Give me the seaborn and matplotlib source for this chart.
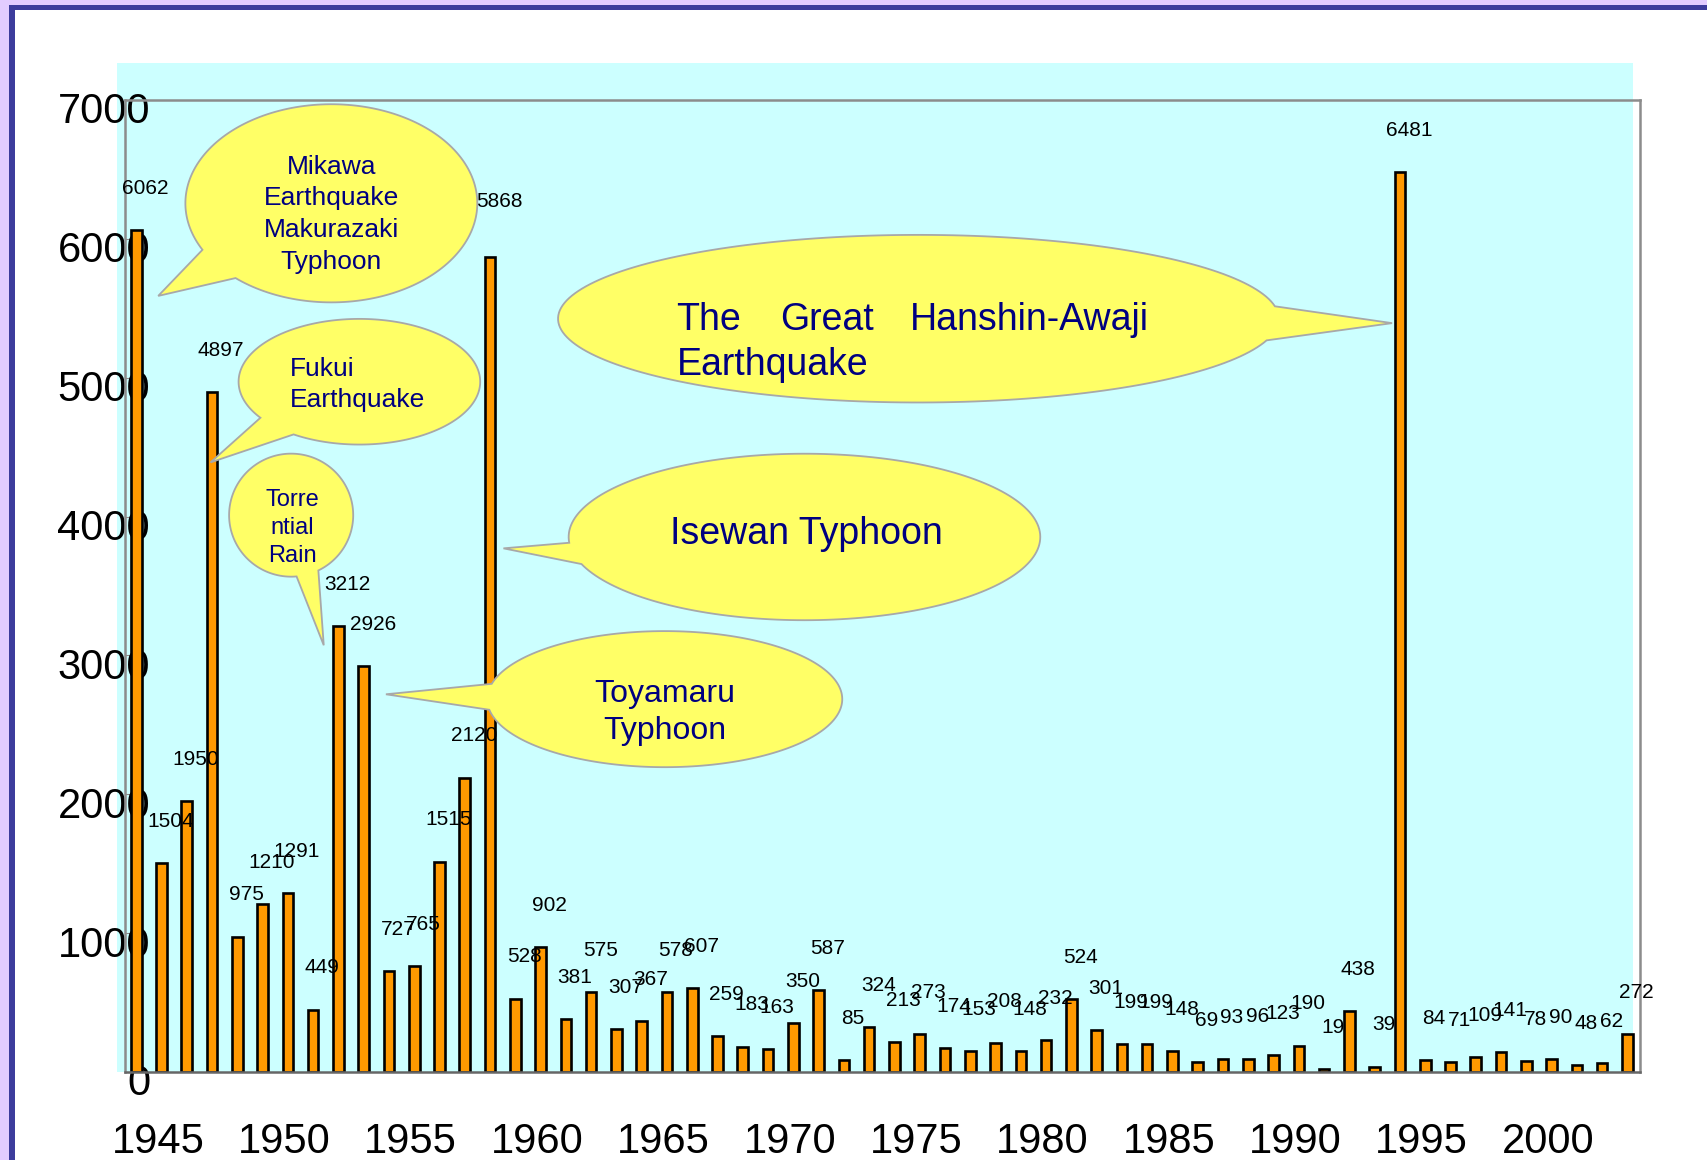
import numpy as np
import pandas as pd
import seaborn as sns
import matplotlib.pyplot as plt
import matplotlib.transforms as mtransforms
from matplotlib.patches import Rectangle, Polygon

# Deaths and missing persons from natural disasters, per year
years = list(range(1945, 2005))
deaths = [
    6062, 1504, 1950, 4897, 975, 1210, 1291, 449, 3212, 2926,
    727, 765, 1515, 2120, 5868, 528, 902, 381, 575, 307,
    367, 578, 607, 259, 183, 163, 350, 587, 85, 324,
    213, 273, 174, 153, 208, 148, 232, 524, 301, 199,
    199, 148, 69, 93, 96, 123, 190, 19, 438, 39,
    6481, 84, 71, 109, 141, 78, 90, 48, 62, 272,
]
tick_years = list(range(1945, 2001, 5))
y_ticks = list(range(0, 7001, 1000))

BAR_COLOR = "#FF9900"
BUBBLE_FILL = "#FFFF66"
BUBBLE_EDGE = "#A8A8A8"
BUBBLE_TEXT = "#000080"

# a few value labels sit higher than the rest (points)
label_lift = {1959: 10}


def speech_bubble(ax, center, width, height, apex, tail, **kws):
    # ellipse outline with a gap (tail[0]..tail[1] degrees) closed through the apex
    t1, t2 = np.radians(tail[0]), np.radians(tail[1])
    t = np.linspace(t2, t1 + 2 * np.pi, 200)
    xs = center[0] + width / 2 * np.cos(t)
    ys = center[1] + height / 2 * np.sin(t)
    pts = np.column_stack([np.append(xs, apex[0]), np.append(ys, apex[1])])
    ax.add_patch(Polygon(pts, closed=True, facecolor=BUBBLE_FILL,
                         edgecolor=BUBBLE_EDGE, linewidth=1.3, zorder=4,
                         clip_on=False))


sns.set_style("white")
plt.rcParams["font.family"] = ["Liberation Sans", "DejaVu Sans"]
plt.rcParams["text.color"] = "black"
plt.rcParams["xtick.color"] = "black"
plt.rcParams["ytick.color"] = "black"

df = pd.DataFrame({"year": years, "deaths": deaths})

fig = plt.figure(figsize=(17.08, 11.6), dpi=100)
ax = fig.add_axes([0.0732, 0.0759, 0.8870, 0.8379])
ax.set_facecolor("none")

# page decoration: lavender margin, dark frame line, cyan plot area
deco = [
    ((0, 1 - 5 / 1160), 1, 5 / 1160, "#E2CCFF"),
    ((0, 0), 9 / 1708, 1, "#E2CCFF"),
    ((9 / 1708, 1 - 10 / 1160), 1, 5 / 1160, "#3C3C9C"),
    ((9 / 1708, 0), 6 / 1708, 1 - 5 / 1160, "#3C3C9C"),
    ((117 / 1708, 0.0759), 1516 / 1708, 1009 / 1160, "#CCFFFF"),
]
for xy, w, h, c in deco:
    fig.add_artist(Rectangle(xy, w, h, transform=fig.transFigure,
                             facecolor=c, edgecolor="none", zorder=-1))

sns.barplot(data=df, x="year", y="deaths", color=BAR_COLOR, saturation=1,
            width=0.42, edgecolor="black", linewidth=1.9, ax=ax)

for i, v in enumerate(deaths):
    ax.annotate(f"{v}", xy=(i, v), xytext=(6.5, 30 + label_lift.get(years[i], 0)),
                textcoords="offset points", ha="center", va="center",
                fontsize=15, color="black", zorder=3)

ax.set_xlim(-0.443, 59.5)
ax.set_ylim(0, 7000)
ax.set_xticks([years.index(y) for y in tick_years])
ax.set_xticklabels([str(y) for y in tick_years], fontsize=30)
ax.set_yticks(y_ticks)
ax.set_yticklabels([str(y) for y in y_ticks], fontsize=30)
ax.set_xlabel("")
ax.set_ylabel("")
ax.tick_params(axis="x", length=0, pad=36, labelcolor="black")
ax.tick_params(axis="y", direction="in", length=5, color="#8C8C8C", pad=0,
               left=True, labelcolor="black")

for lbl in ax.get_yticklabels():
    lbl.set_transform(lbl.get_transform() + mtransforms.ScaledTranslation(0.25, -0.08, fig.dpi_scale_trans))
for lbl in ax.get_xticklabels():
    lbl.set_transform(lbl.get_transform() + mtransforms.ScaledTranslation(0.218, 0, fig.dpi_scale_trans))

for side in ["top", "right", "left"]:
    ax.spines[side].set_color("#8C8C8C")
    ax.spines[side].set_linewidth(1.8)
ax.spines["bottom"].set_color("#666666")
ax.spines["bottom"].set_linewidth(1.8)

# callouts
speech_bubble(ax, (7.72, 6256), 11.55, 1427, (0.87, 5589), (208, 229))
ax.text(7.72, 6177, "Mikawa\nEarthquake\nMakurazaki\nTyphoon", ha="center", va="center",
        fontsize=19, linespacing=1.4, color=BUBBLE_TEXT, zorder=5)

speech_bubble(ax, (8.83, 4971), 9.56, 905, (2.94, 4390), (215, 237))
ax.text(6.07, 4950, "Fukui\nEarthquake", ha="left", va="center",
        fontsize=19, linespacing=1.4, color=BUBBLE_TEXT, zorder=5)

speech_bubble(ax, (6.13, 4010), 4.91, 886, (7.42, 3073), (275, 296))
ax.text(6.17, 3918, "Torre\nntial\nRain", ha="center", va="center",
        fontsize=17, linespacing=1.33, color=BUBBLE_TEXT, zorder=5)

speech_bubble(ax, (30.95, 5425), 28.52, 1207, (49.69, 5393), (-15, 8.5))
for x, y, s, ha in [(21.38, 5346, "The", "left"), (27.33, 5346, "Great", "center"),
                    (40.08, 5346, "Hanshin-Awaji", "right"), (21.38, 5017, "Earthquake", "left")]:
    ax.text(x, y, s, ha=ha, va="baseline", fontsize=27, color=BUBBLE_TEXT, zorder=5)

speech_bubble(ax, (26.44, 3853), 18.66, 1199, (14.53, 3771), (184, 199))
ax.text(26.51, 3873, "Isewan Typhoon", ha="center", va="center",
        fontsize=27, color=BUBBLE_TEXT, zorder=5)

speech_bubble(ax, (20.91, 2685), 14.05, 980, (9.88, 2720), (167, 189))
ax.text(20.91, 2587, "Toyamaru\nTyphoon", ha="center", va="center",
        fontsize=23, linespacing=1.32, color=BUBBLE_TEXT, zorder=5)

fig.savefig("out.png", dpi=100)
plt.close()
